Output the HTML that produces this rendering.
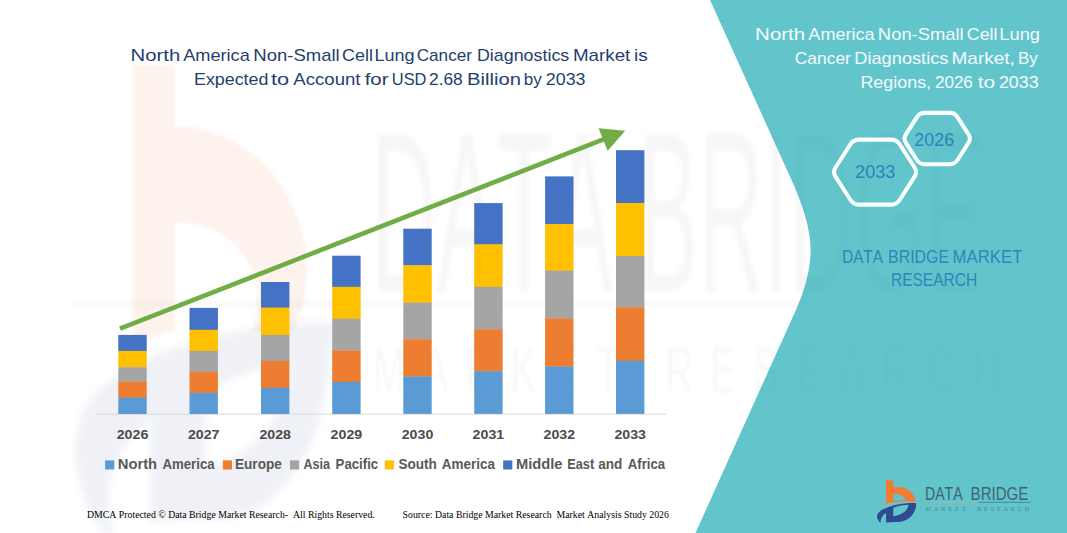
<!DOCTYPE html>
<html><head><meta charset="utf-8"><title>Chart</title>
<style>
html,body{margin:0;padding:0;background:#fff;}
body{width:1067px;height:533px;overflow:hidden;font-family:"Liberation Sans",sans-serif;}
svg{display:block;}
text{font-family:"Liberation Sans",sans-serif;font-kerning:none;}
.serif,.serif text{font-family:"Liberation Serif",serif;}
</style></head><body>
<svg width="1067" height="533" viewBox="0 0 1067 533">
<defs><clipPath id="tealclip"><path d="M710,0 L791.5,180 C802,203 810.6,228 810.6,250 C810.6,272 803,296 791.4,320 L695.5,533 L1067,533 L1067,0 Z"/></clipPath><filter id="bl" filterUnits="userSpaceOnUse" x="-200" y="-200" width="2400" height="1000"><feGaussianBlur stdDeviation="2.2"/></filter><filter id="bl3" filterUnits="userSpaceOnUse" x="0" y="0" width="1067" height="533"><feGaussianBlur stdDeviation="1.8"/></filter><filter id="bl2" filterUnits="userSpaceOnUse" x="0" y="0" width="1067" height="560"><feGaussianBlur stdDeviation="3.5"/></filter></defs>
<rect width="1067" height="533" fill="#ffffff"/>
<!-- watermark (white side) -->

<!-- faint big logo -->
<g opacity="0.085" filter="url(#bl3)">
<path fill="#F47B30" d="M132.5,65 L175,65 L175,126 C235,126 300,175 307,262 C308,290 302,315 292,332 L252,332 C262,305 258,270 238,248 C220,228 198,222 175,223 L175,330 L132.5,345 Z"/>
</g>
<g opacity="0.07" filter="url(#bl2)">
<path fill="#2F4B8F" fill-rule="evenodd" d="M335,322 C240,322 130,350 90,400 C65,435 72,490 105,535 L114,535 C100,490 112,450 150,420 L150,522 L240,517 C295,497 325,430 330,365 Z M205,392 C235,375 268,366 290,364 C290,408 262,452 205,468 Z"/>
</g>


<g fill="#000" opacity="0.03" filter="url(#bl)">
<text x="371" y="292" font-size="230" textLength="614" lengthAdjust="spacingAndGlyphs">DATA BRIDGE</text>
</g>
<g fill="#000" opacity="0.028" filter="url(#bl)" transform="translate(373,392) scale(0.6,1)">
<text x="0" y="0" font-size="64" textLength="1045" lengthAdjust="spacing">MARKET RESEARCH</text>
</g>
<rect x="70" y="300" width="930" height="8" fill="#000" opacity="0.018" filter="url(#bl)"/>

<!-- teal panel -->
<path d="M710,0 L791.5,180 C802,203 810.6,228 810.6,250 C810.6,272 803,296 791.4,320 L695.5,533 L1067,533 L1067,0 Z" fill="#63C5CC"/>
<g opacity="0.55" clip-path="url(#tealclip)">
<g fill="#000" opacity="0.03" filter="url(#bl)">
<text x="371" y="292" font-size="230" textLength="614" lengthAdjust="spacingAndGlyphs">DATA BRIDGE</text>
</g>
<g fill="#000" opacity="0.028" filter="url(#bl)" transform="translate(373,392) scale(0.6,1)">
<text x="0" y="0" font-size="64" textLength="1045" lengthAdjust="spacing">MARKET RESEARCH</text>
</g>
<rect x="70" y="300" width="930" height="8" fill="#000" opacity="0.018" filter="url(#bl)"/>
</g>
<!-- axis -->
<line x1="97" y1="414.2" x2="666" y2="414.2" stroke="#D9D9D9" stroke-width="1"/>
<!-- bars -->
<rect x="118.3" y="334.9" width="28.4" height="16.3" fill="#4472C4"/>
<rect x="118.3" y="350.9" width="28.4" height="16.6" fill="#FFC000"/>
<rect x="118.3" y="367.2" width="28.4" height="14.7" fill="#A5A5A5"/>
<rect x="118.3" y="381.6" width="28.4" height="16.3" fill="#ED7D31"/>
<rect x="118.3" y="397.6" width="28.4" height="16.4" fill="#5B9BD5"/>
<rect x="189.5" y="307.9" width="28.4" height="22.2" fill="#4472C4"/>
<rect x="189.5" y="329.8" width="28.4" height="21.4" fill="#FFC000"/>
<rect x="189.5" y="350.9" width="28.4" height="21.2" fill="#A5A5A5"/>
<rect x="189.5" y="371.8" width="28.4" height="21.4" fill="#ED7D31"/>
<rect x="189.5" y="392.9" width="28.4" height="21.1" fill="#5B9BD5"/>
<rect x="261.0" y="282.0" width="28.4" height="25.9" fill="#4472C4"/>
<rect x="261.0" y="307.6" width="28.4" height="27.6" fill="#FFC000"/>
<rect x="261.0" y="334.9" width="28.4" height="26.2" fill="#A5A5A5"/>
<rect x="261.0" y="360.8" width="28.4" height="27.3" fill="#ED7D31"/>
<rect x="261.0" y="387.8" width="28.4" height="26.2" fill="#5B9BD5"/>
<rect x="332.2" y="255.7" width="28.4" height="31.4" fill="#4472C4"/>
<rect x="332.2" y="286.8" width="28.4" height="32.3" fill="#FFC000"/>
<rect x="332.2" y="318.8" width="28.4" height="31.9" fill="#A5A5A5"/>
<rect x="332.2" y="350.4" width="28.4" height="31.8" fill="#ED7D31"/>
<rect x="332.2" y="381.9" width="28.4" height="32.1" fill="#5B9BD5"/>
<rect x="403.3" y="228.7" width="28.4" height="36.9" fill="#4472C4"/>
<rect x="403.3" y="265.3" width="28.4" height="37.6" fill="#FFC000"/>
<rect x="403.3" y="302.6" width="28.4" height="36.9" fill="#A5A5A5"/>
<rect x="403.3" y="339.2" width="28.4" height="37.5" fill="#ED7D31"/>
<rect x="403.3" y="376.4" width="28.4" height="37.5" fill="#5B9BD5"/>
<rect x="474.2" y="203.1" width="28.4" height="41.6" fill="#4472C4"/>
<rect x="474.2" y="244.4" width="28.4" height="42.8" fill="#FFC000"/>
<rect x="474.2" y="286.9" width="28.4" height="42.7" fill="#A5A5A5"/>
<rect x="474.2" y="329.3" width="28.4" height="42.2" fill="#ED7D31"/>
<rect x="474.2" y="371.2" width="28.4" height="42.7" fill="#5B9BD5"/>
<rect x="545.1" y="176.4" width="28.4" height="47.9" fill="#4472C4"/>
<rect x="545.1" y="224.0" width="28.4" height="46.9" fill="#FFC000"/>
<rect x="545.1" y="270.6" width="28.4" height="48.0" fill="#A5A5A5"/>
<rect x="545.1" y="318.3" width="28.4" height="48.5" fill="#ED7D31"/>
<rect x="545.1" y="366.5" width="28.4" height="47.4" fill="#5B9BD5"/>
<rect x="616.0" y="150.2" width="28.4" height="53.2" fill="#4472C4"/>
<rect x="616.0" y="203.1" width="28.4" height="53.2" fill="#FFC000"/>
<rect x="616.0" y="256.0" width="28.4" height="51.5" fill="#A5A5A5"/>
<rect x="616.0" y="307.2" width="28.4" height="53.8" fill="#ED7D31"/>
<rect x="616.0" y="360.7" width="28.4" height="53.2" fill="#5B9BD5"/>
<!-- arrow -->
<line x1="120" y1="328.7" x2="604" y2="139.1" stroke="#70AD47" stroke-width="4.6"/>
<polygon points="625.2,130.7 598.5,128.2 607.7,150.7" fill="#70AD47"/>
<!-- title -->
<g fill="#263D6E" font-size="16.4">
<text x="130.63" y="60.7" textLength="49.69" lengthAdjust="spacingAndGlyphs">North</text>
<text x="183.16" y="60.7" textLength="66.64" lengthAdjust="spacingAndGlyphs">America</text>
<text x="253.38" y="60.7" textLength="86.36" lengthAdjust="spacingAndGlyphs">Non-Small</text>
<text x="342.09" y="60.7" textLength="30.80" lengthAdjust="spacingAndGlyphs">Cell</text>
<text x="374.42" y="60.7" textLength="40.14" lengthAdjust="spacingAndGlyphs">Lung</text>
<text x="416.73" y="60.7" textLength="55.25" lengthAdjust="spacingAndGlyphs">Cancer</text>
<text x="476.94" y="60.7" textLength="92.31" lengthAdjust="spacingAndGlyphs">Diagnostics</text>
<text x="572.96" y="60.7" textLength="57.38" lengthAdjust="spacingAndGlyphs">Market</text>
<text x="634.03" y="60.7" textLength="13.76" lengthAdjust="spacingAndGlyphs">is</text>
<text x="194.04" y="84.6" textLength="74.31" lengthAdjust="spacingAndGlyphs">Expected</text>
<text x="271.07" y="84.6" textLength="18.14" lengthAdjust="spacingAndGlyphs">to</text>
<text x="293.36" y="84.6" textLength="67.17" lengthAdjust="spacingAndGlyphs">Account</text>
<text x="364.71" y="84.6" textLength="23.83" lengthAdjust="spacingAndGlyphs">for</text>
<text x="391.83" y="84.6" textLength="34.65" lengthAdjust="spacingAndGlyphs">USD</text>
<text x="429.03" y="84.6" textLength="33.72" lengthAdjust="spacingAndGlyphs">2.68</text>
<text x="467.04" y="84.6" textLength="53.97" lengthAdjust="spacingAndGlyphs">Billion</text>
<text x="523.71" y="84.6" textLength="17.93" lengthAdjust="spacingAndGlyphs">by</text>
<text x="545.80" y="84.6" textLength="39.68" lengthAdjust="spacingAndGlyphs">2033</text>
</g>
<!-- years -->
<g fill="#4A4A4A" font-size="13.3" font-weight="bold">
<text x="132.5" y="438.8" text-anchor="middle" textLength="31.6" lengthAdjust="spacingAndGlyphs">2026</text>
<text x="203.7" y="438.8" text-anchor="middle" textLength="31.6" lengthAdjust="spacingAndGlyphs">2027</text>
<text x="275.2" y="438.8" text-anchor="middle" textLength="31.6" lengthAdjust="spacingAndGlyphs">2028</text>
<text x="346.4" y="438.8" text-anchor="middle" textLength="31.6" lengthAdjust="spacingAndGlyphs">2029</text>
<text x="417.5" y="438.8" text-anchor="middle" textLength="31.6" lengthAdjust="spacingAndGlyphs">2030</text>
<text x="488.4" y="438.8" text-anchor="middle" textLength="31.6" lengthAdjust="spacingAndGlyphs">2031</text>
<text x="559.3" y="438.8" text-anchor="middle" textLength="31.6" lengthAdjust="spacingAndGlyphs">2032</text>
<text x="630.2" y="438.8" text-anchor="middle" textLength="31.6" lengthAdjust="spacingAndGlyphs">2033</text>
</g>
<!-- legend -->
<g font-size="14" font-weight="bold" fill="#595959">
<rect x="105.1" y="460.4" width="9.1" height="9.1" fill="#5B9BD5"/>
<rect x="222.9" y="460.4" width="9.1" height="9.1" fill="#ED7D31"/>
<rect x="290.0" y="460.4" width="9.1" height="9.1" fill="#A5A5A5"/>
<rect x="384.8" y="460.4" width="9.1" height="9.1" fill="#FFC000"/>
<rect x="503.2" y="460.4" width="9.1" height="9.1" fill="#4472C4"/>
<text x="117.71" y="468.9" textLength="39.41" lengthAdjust="spacingAndGlyphs">North</text>
<text x="162.47" y="468.9" textLength="52.15" lengthAdjust="spacingAndGlyphs">America</text>
<text x="234.99" y="468.9" textLength="46.88" lengthAdjust="spacingAndGlyphs">Europe</text>
<text x="303.39" y="468.9" textLength="26.53" lengthAdjust="spacingAndGlyphs">Asia</text>
<text x="335.62" y="468.9" textLength="42.57" lengthAdjust="spacingAndGlyphs">Pacific</text>
<text x="398.41" y="468.9" textLength="38.33" lengthAdjust="spacingAndGlyphs">South</text>
<text x="441.76" y="468.9" textLength="53.15" lengthAdjust="spacingAndGlyphs">America</text>
<text x="515.92" y="468.9" textLength="46.48" lengthAdjust="spacingAndGlyphs">Middle</text>
<text x="567.25" y="468.9" textLength="26.91" lengthAdjust="spacingAndGlyphs">East</text>
<text x="598.30" y="468.9" textLength="24.09" lengthAdjust="spacingAndGlyphs">and</text>
<text x="627.77" y="468.9" textLength="37.34" lengthAdjust="spacingAndGlyphs">Africa</text>
</g>
<!-- footer -->
<g class="serif" font-size="10" fill="#000">
<text x="87.0" y="517.7" textLength="287.8" lengthAdjust="spacingAndGlyphs" xml:space="preserve">DMCA Protected © Data Bridge Market Research-  All Rights Reserved.</text>
<text x="402.6" y="517.7" textLength="266.3" lengthAdjust="spacingAndGlyphs" xml:space="preserve">Source: Data Bridge Market Research  Market Analysis Study 2026</text>
</g>
<!-- right title -->
<g fill="#F4FBFC" font-size="16.6">
<text x="755.12" y="39.7" textLength="50.01" lengthAdjust="spacingAndGlyphs">North</text>
<text x="808.36" y="39.7" textLength="66.14" lengthAdjust="spacingAndGlyphs">America</text>
<text x="877.89" y="39.7" textLength="85.84" lengthAdjust="spacingAndGlyphs">Non-Small</text>
<text x="966.80" y="39.7" textLength="30.70" lengthAdjust="spacingAndGlyphs">Cell</text>
<text x="999.30" y="39.7" textLength="40.68" lengthAdjust="spacingAndGlyphs">Lung</text>
<text x="794.82" y="63.6" textLength="56.07" lengthAdjust="spacingAndGlyphs">Cancer</text>
<text x="854.31" y="63.6" textLength="94.15" lengthAdjust="spacingAndGlyphs">Diagnostics</text>
<text x="951.44" y="63.6" textLength="63.47" lengthAdjust="spacingAndGlyphs">Market,</text>
<text x="1018.11" y="63.6" textLength="19.72" lengthAdjust="spacingAndGlyphs">By</text>
<text x="860.43" y="87.5" textLength="70.68" lengthAdjust="spacingAndGlyphs">Regions,</text>
<text x="934.94" y="87.5" textLength="37.91" lengthAdjust="spacingAndGlyphs">2026</text>
<text x="977.68" y="87.5" textLength="17.39" lengthAdjust="spacingAndGlyphs">to</text>
<text x="998.90" y="87.5" textLength="39.68" lengthAdjust="spacingAndGlyphs">2033</text>
</g>
<!-- hexagons -->
<g fill="none" stroke="#F8FDFD" stroke-width="4.1" stroke-linejoin="round">
<path d="M835.5,176.7 Q832.5,172.1 835.5,167.5 L850.5,144.2 Q853.4,139.6 858.9,139.6 L891.1,139.6 Q896.6,139.6 899.6,144.2 L914.6,167.5 Q917.5,172.1 914.6,176.7 L899.6,200.0 Q896.6,204.6 891.1,204.6 L858.9,204.6 Q853.4,204.6 850.5,200.0 Z"/>
<path d="M905.9,142.8 Q903.2,138.6 905.9,134.3 L916.9,117.1 Q919.6,112.9 924.6,112.9 L949.8,112.9 Q954.8,112.9 957.5,117.1 L968.5,134.3 Q971.2,138.6 968.5,142.8 L957.5,160.0 Q954.8,164.2 949.8,164.2 L924.6,164.2 Q919.6,164.2 916.9,160.0 Z"/>
</g>
<g fill="#2B84B8" font-size="18.6">
<text x="855.09" y="178.3" textLength="40.31" lengthAdjust="spacingAndGlyphs">2033</text>
<text x="914.30" y="146.3" textLength="39.89" lengthAdjust="spacingAndGlyphs">2026</text>
</g>
<g fill="#2C87BC" font-size="18.0">
<text x="842.15" y="263.0" textLength="40.68" lengthAdjust="spacingAndGlyphs">DATA</text>
<text x="888.10" y="263.0" textLength="60.99" lengthAdjust="spacingAndGlyphs">BRIDGE</text>
<text x="952.62" y="263.0" textLength="69.86" lengthAdjust="spacingAndGlyphs">MARKET</text>
<text x="890.93" y="286.3" textLength="86.34" lengthAdjust="spacingAndGlyphs">RESEARCH</text>
</g>
<!-- logo -->

<g transform="translate(870,475) scale(0.10327)">
<path fill="#F47B30" fill-rule="evenodd" d="M155,50 L225,50 L225,120 C300,110 360,125 400,170 C430,205 440,235 440,262 C380,250 300,250 225,262 L155,278 Z M225,190 C280,180 330,200 347,245 C300,243 260,246 225,252 Z"/>
<path fill="#2F4B8F" fill-rule="evenodd" d="M462,268 C350,265 200,290 120,335 C80,360 60,390 70,420 C78,440 90,455 102,462 C100,430 115,395 155,365 L155,460 L300,452 C370,440 420,390 440,330 C446,305 448,285 445,272 Z M225,318 C275,298 330,290 372,288 C372,330 325,385 225,400 Z"/>
<path fill="none" stroke="#ADADA0" stroke-width="11" d="M65,312 C140,280 300,255 472,268"/>
</g>
<g fill="#3E6473">
<text x="925.0" y="499.7" font-size="18.8" textLength="37.6" lengthAdjust="spacingAndGlyphs">DATA</text>
<text x="970.6" y="499.7" font-size="18.8" textLength="57.8" lengthAdjust="spacingAndGlyphs">BRIDGE</text>
</g>
<line x1="925.6" y1="502.3" x2="976.4" y2="502.3" stroke="#B0B2A2" stroke-width="1"/>
<line x1="978.6" y1="502.3" x2="1030.8" y2="502.3" stroke="#4D86A5" stroke-width="1"/>
<text class="serif" x="925.6" y="511.3" font-size="6.2" fill="#4A8794" textLength="103.5" lengthAdjust="spacing" xml:space="preserve">MARKET  RESEARCH</text>

</svg>
</body></html>
